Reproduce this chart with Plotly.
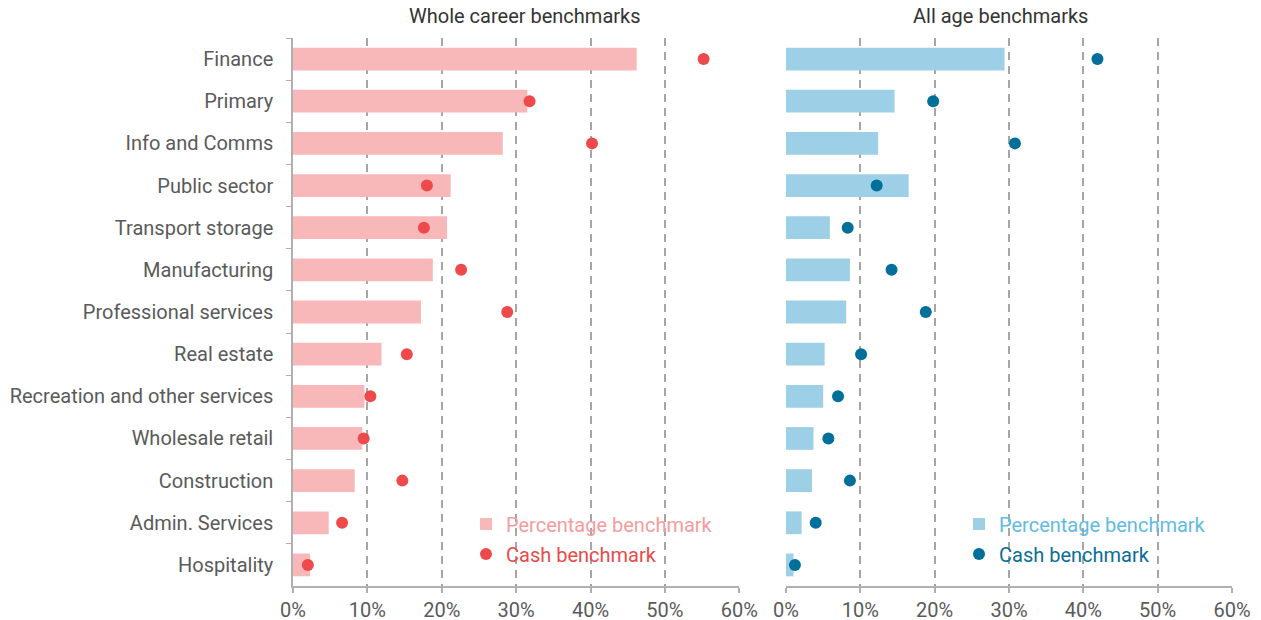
import plotly.graph_objects as go

categories = ["Finance", "Primary", "Info and Comms", "Public sector", "Transport storage",
              "Manufacturing", "Professional services", "Real estate",
              "Recreation and other services", "Wholesale retail", "Construction",
              "Admin. Services", "Hospitality"]

career_pct = [46.2, 31.5, 28.2, 21.2, 20.7, 18.8, 17.2, 11.9, 9.6, 9.3, 8.3, 4.8, 2.3]
career_cash = [55.2, 31.8, 40.2, 18.0, 17.6, 22.6, 28.8, 15.3, 10.4, 9.5, 14.7, 6.6, 2.0]
age_pct = [29.4, 14.6, 12.4, 16.5, 5.9, 8.6, 8.1, 5.2, 5.0, 3.7, 3.5, 2.1, 1.0]
age_cash = [41.9, 19.8, 30.8, 12.2, 8.3, 14.2, 18.8, 10.1, 7.0, 5.7, 8.6, 4.0, 1.2]

x_ticks = [0, 10, 20, 30, 40, 50, 60]
titles = ["Whole career benchmarks", "All age benchmarks"]

FONT = "Roboto"
FS = 20
PINK_BAR = "#f8b7b8"
PINK_TXT = "#f49d9e"
RED = "#ee4a4b"
RED_TXT = "#e84b4b"
BLUE_BAR = "#9dd0e6"
BLUE_TXT = "#62bbe0"
DBLUE = "#006f9a"
DBLUE_TXT = "#0a6e98"
GRID = "#a6a6a6"
AXIS = "#b0b0b0"
LABEL = "#5a5a5a"

W, H = 1261, 620
ML, MR, MT, MB = 0, 0, 38, 34

fig = go.Figure()

fig.add_trace(go.Bar(x=career_pct, y=categories, orientation="h", marker=dict(color=PINK_BAR, line=dict(width=0)),
                     width=0.54, name="Percentage benchmark", xaxis="x", yaxis="y", legend="legend"))
fig.add_trace(go.Scatter(x=career_cash, y=categories, mode="markers", marker=dict(color=RED, size=12),
                         name="Cash benchmark", xaxis="x", yaxis="y", legend="legend2"))
fig.add_trace(go.Bar(x=age_pct, y=categories, orientation="h", marker=dict(color=BLUE_BAR, line=dict(width=0)),
                     width=0.54, name="Percentage benchmark", xaxis="x2", yaxis="y2", legend="legend3"))
fig.add_trace(go.Scatter(x=age_cash, y=categories, mode="markers", marker=dict(color=DBLUE, size=12),
                         name="Cash benchmark", xaxis="x2", yaxis="y2", legend="legend4"))

xcommon = dict(range=[0, 60], tickvals=x_ticks, ticktext=[f"{v}%" for v in x_ticks],
               showgrid=True, gridcolor=GRID, gridwidth=1.5, griddash="8px,6px",
               zeroline=False, showline=True, linecolor=AXIS, linewidth=1.5,
               ticks="outside", ticklen=5, tickcolor=AXIS, tickwidth=1.5,
               tickfont=dict(family=FONT, size=FS, color=LABEL), automargin=False, fixedrange=True)

pw = W - ML - MR
d1 = [293 / pw, 739.3 / pw]
d2 = [786 / pw, 1232 / pw]
n = len(categories)
yrange = [n - 0.5, -0.5]

fig.update_layout(
    width=W, height=H,
    template="none",
    paper_bgcolor="white", plot_bgcolor="rgba(0,0,0,0)",
    margin=dict(l=ML, r=MR, t=MT, b=MB),
    xaxis=dict(domain=d1, anchor="y", **xcommon),
    xaxis2=dict(domain=d2, anchor="y2", **xcommon),
    yaxis=dict(domain=[0, 1], anchor="x", type="category", categoryorder="array", categoryarray=categories,
               range=yrange, autorange=False, showgrid=False, zeroline=False, showline=True, linecolor=AXIS,
               linewidth=1.5, ticks="outside", tickson="boundaries", ticklen=5, tickcolor=AXIS, tickwidth=1,
               ticklabelstandoff=14,
               tickfont=dict(family=FONT, size=FS, color=LABEL), automargin=False, fixedrange=True),
    yaxis2=dict(domain=[0, 1], anchor="x2", type="category", categoryorder="array", categoryarray=categories,
                range=yrange, autorange=False, showgrid=False, zeroline=False, showline=False,
                showticklabels=False, ticks="", automargin=False, fixedrange=True),
    showlegend=True,
)

leg_font = dict(family=FONT, size=FS)
y_pct = (H - MB - 524) / (H - MT - MB)
y_cash = (H - MB - 554) / (H - MT - MB)
lx1 = (506 - 40) / pw
lx2 = (999 - 40) / pw
fig.update_layout(
    legend=dict(x=lx1, y=y_pct, xanchor="left", yanchor="middle", bgcolor="rgba(0,0,0,0)",
                font=dict(color=PINK_TXT, **leg_font), itemsizing="constant"),
    legend2=dict(x=lx1, y=y_cash, xanchor="left", yanchor="middle", bgcolor="rgba(0,0,0,0)",
                 font=dict(color=RED_TXT, **leg_font), itemsizing="constant"),
    legend3=dict(x=lx2, y=y_pct, xanchor="left", yanchor="middle", bgcolor="rgba(0,0,0,0)",
                 font=dict(color=BLUE_TXT, **leg_font), itemsizing="constant"),
    legend4=dict(x=lx2, y=y_cash, xanchor="left", yanchor="middle", bgcolor="rgba(0,0,0,0)",
                 font=dict(color=DBLUE_TXT, **leg_font), itemsizing="constant"),
)

title_y = 1 + (MT - 16) / (H - MT - MB)
fig.add_annotation(text=titles[0], x=525 / pw, y=title_y, xref="paper", yref="paper", showarrow=False,
                   xanchor="center", yanchor="middle", font=dict(family=FONT, size=FS, color="#333333"))
fig.add_annotation(text=titles[1], x=1000 / pw, y=title_y, xref="paper", yref="paper", showarrow=False,
                   xanchor="center", yanchor="middle", font=dict(family=FONT, size=FS, color="#333333"))

fig.write_html("out.html", config={"displayModeBar": False},
               post_script="document.body.style.margin='0';document.body.style.padding='0';document.body.style.overflow='hidden';")
